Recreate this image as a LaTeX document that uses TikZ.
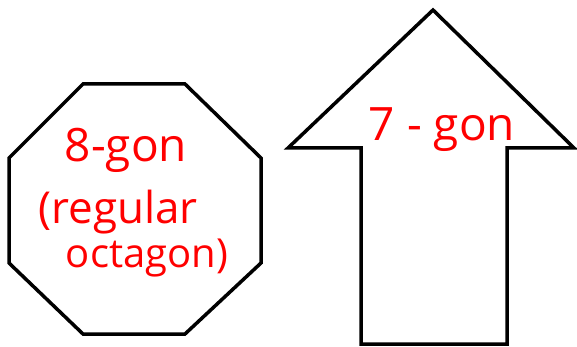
\documentclass[tikz,border=0pt]{standalone}
\usepackage{fontspec}
\setmainfont{Open Sans}
\begin{document}
\begin{tikzpicture}[x=1pt,y=-1pt,
  shapeline/.style={draw=black,line width=3.5pt,line join=miter},
  redtext/.style={text=red,font=\fontsize{46}{50}\selectfont,inner sep=0pt}]
\useasboundingbox (0,0) rectangle (577,347);
\draw[shapeline] (83,84) -- (185,84) -- (261,158) -- (261,263) -- (185,334) -- (83,334) -- (9,263) -- (9,158) -- cycle;
\draw[shapeline] (433,10) -- (574,148) -- (507,148) -- (507,344) -- (361,344) -- (361,148) -- (288,148) -- cycle;
\node[redtext] (t1) at (126,150) {8-gon};
\node[redtext,font=\fontsize{44}{48}\selectfont] (t2) at (118,212) {(regular};
\node[redtext,font=\fontsize{40}{44}\selectfont] (t3) at (147,258) {octagon)};
\node[redtext] (t4) at (442,130) {7 - gon};
\end{tikzpicture}
\end{document}
